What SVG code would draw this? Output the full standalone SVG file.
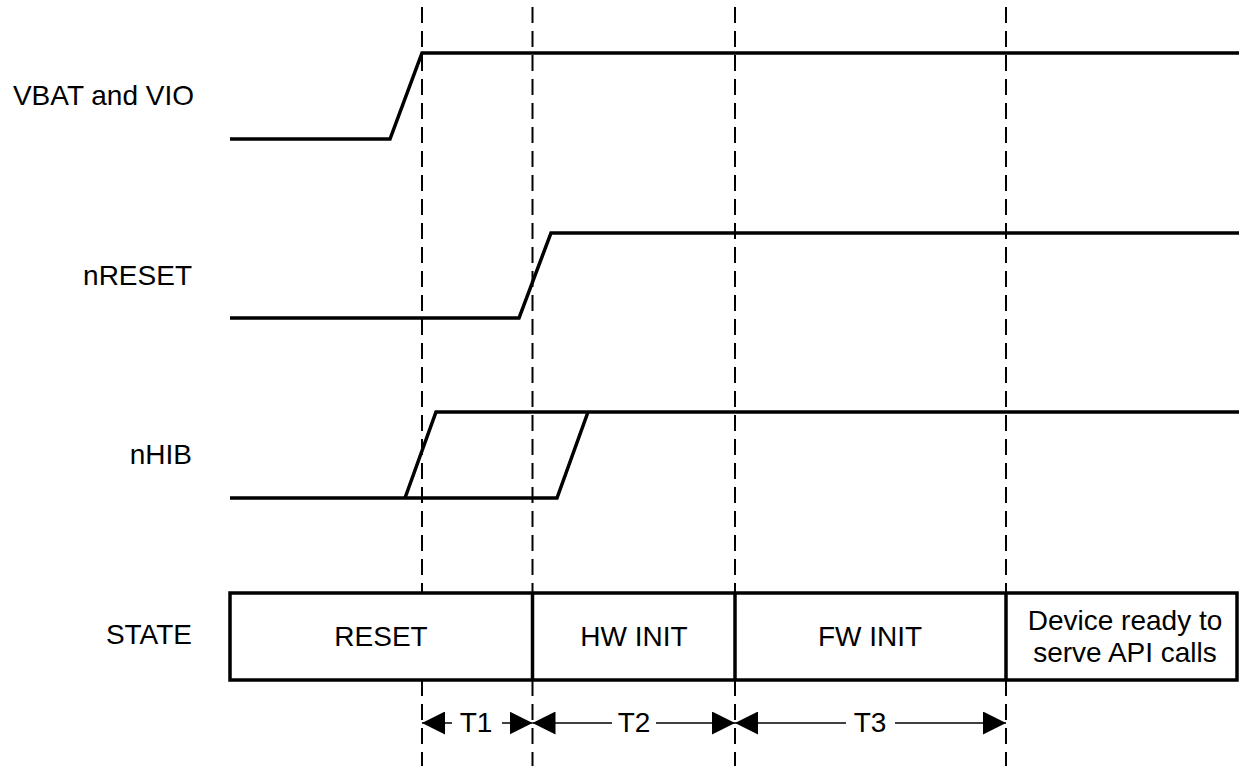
<svg xmlns="http://www.w3.org/2000/svg" width="1239" height="770" viewBox="0 0 1239 770">
<defs>
<style>
.sig{fill:none;stroke:#000;stroke-width:3.5;stroke-linejoin:miter}
.dash{fill:none;stroke:#000;stroke-width:2;stroke-dasharray:16 8}
.box{fill:#fff;stroke:#000;stroke-width:3.5}
.dim{fill:none;stroke:#000;stroke-width:1.5}
.lbl{font-family:"Liberation Sans",Arial,sans-serif;font-size:28px;fill:#000;text-anchor:end}
.txt{font-family:"Liberation Sans",Arial,sans-serif;font-size:28px;fill:#000;text-anchor:middle}
</style>
<marker id="ah" viewBox="0 0 23 23" refX="23" refY="11.5" markerWidth="23" markerHeight="23" markerUnits="userSpaceOnUse" orient="auto-start-reverse">
<path d="M0,0 L23,11.5 L0,23 Z" fill="#000"/>
</marker>
</defs>
<rect width="1239" height="770" fill="#fff"/>
<g id="labels">
<text class="lbl" x="194" y="105">VBAT and VIO</text>
<text class="lbl" x="192" y="285">nRESET</text>
<text class="lbl" x="192" y="464">nHIB</text>
<text class="lbl" x="192" y="644">STATE</text>
</g>
<g id="guides">
<line class="dash" x1="422" y1="7" x2="422" y2="593"/>
<line class="dash" x1="422" y1="680" x2="422" y2="766"/>
<line class="dash" x1="532.5" y1="7" x2="532.5" y2="593"/>
<line class="dash" x1="532.5" y1="680" x2="532.5" y2="766"/>
<line class="dash" x1="735" y1="7" x2="735" y2="593"/>
<line class="dash" x1="735" y1="680" x2="735" y2="766"/>
<line class="dash" x1="1006" y1="7" x2="1006" y2="593"/>
<line class="dash" x1="1006" y1="680" x2="1006" y2="766"/>
</g>
<g id="vbat">
<polyline class="sig" points="230,139 390,139 422,53 1239,53"/>
</g>
<g id="nreset">
<polyline class="sig" points="230,318 519,318 551,233 1239,233"/>
</g>
<g id="nhib">
<polyline class="sig" points="230,498 557,498 588,412"/>
<polyline class="sig" points="405,498 436,412 1239,412"/>
</g>
<g id="state">
<rect class="box" x="230" y="593" width="1007" height="87"/>
<line class="sig" x1="532.5" y1="593" x2="532.5" y2="680"/>
<line class="sig" x1="735" y1="593" x2="735" y2="680"/>
<line class="sig" x1="1006" y1="593" x2="1006" y2="680"/>
</g>
<g id="state-reset"><text class="txt" x="381" y="646">RESET</text></g>
<g id="state-hwinit"><text class="txt" x="634" y="646">HW INIT</text></g>
<g id="state-fwinit"><text class="txt" x="870" y="646">FW INIT</text></g>
<g id="state-ready"><text class="txt" x="1125" y="630">Device ready to</text><text class="txt" x="1125" y="662">serve API calls</text></g>
<g id="connectors">
<line class="dim" x1="452" y1="723" x2="422" y2="723" marker-end="url(#ah)"/>
<line class="dim" x1="502" y1="723" x2="532.5" y2="723" marker-end="url(#ah)"/>
<line class="dim" x1="612" y1="723" x2="532.5" y2="723" marker-end="url(#ah)"/>
<line class="dim" x1="656" y1="723" x2="735" y2="723" marker-end="url(#ah)"/>
<line class="dim" x1="846" y1="723" x2="735" y2="723" marker-end="url(#ah)"/>
<line class="dim" x1="895" y1="723" x2="1006" y2="723" marker-end="url(#ah)"/>
</g>
<g id="t1"><text class="txt" x="476" y="732">T1</text></g>
<g id="t2"><text class="txt" x="634" y="732">T2</text></g>
<g id="t3"><text class="txt" x="870" y="732">T3</text></g>
</svg>
